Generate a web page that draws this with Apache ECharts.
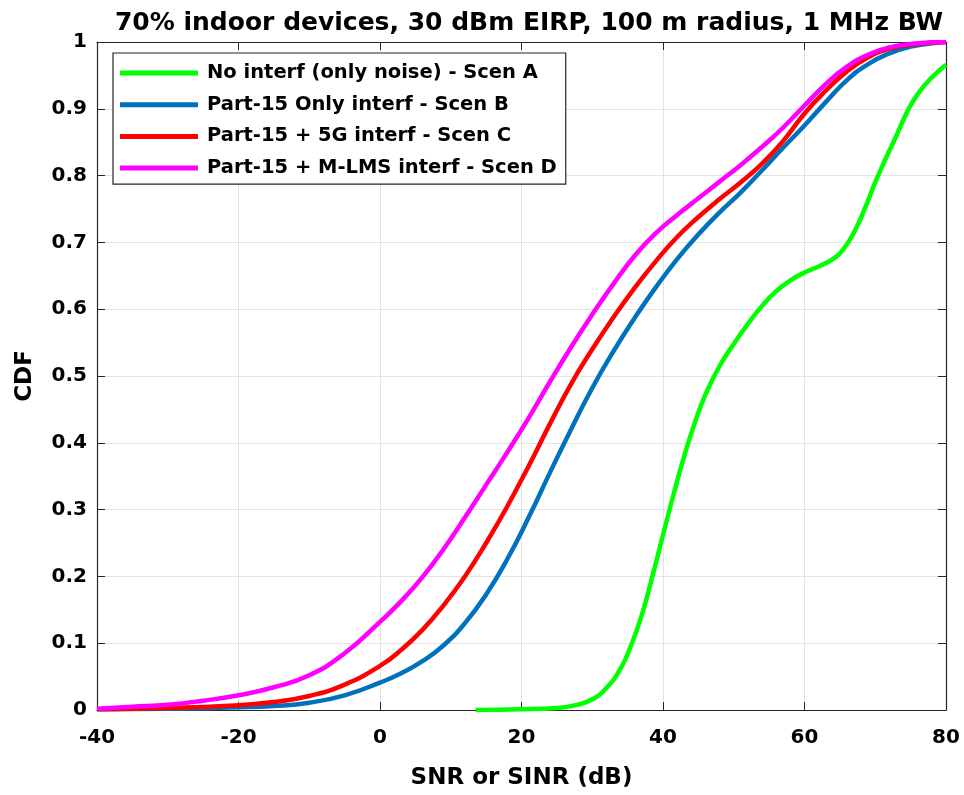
<!DOCTYPE html>
<html><head><meta charset="utf-8">
<script src="https://cdn.jsdelivr.net/npm/echarts@6/dist/echarts.min.js"></script>
<style>html,body{margin:0;padding:0;background:#fff}#c{width:964px;height:795px}</style>
</head><body><div id="c"></div>
<script>
const titleText = '70% indoor devices, 30 dBm EIRP, 100 m radius, 1 MHz BW';
const xTitle = 'SNR or SINR (dB)';
const yTitle = 'CDF';
const seriesNames = ['No interf (only noise) - Scen A','Part-15 Only interf - Scen B','Part-15 + 5G interf - Scen C','Part-15 + M-LMS interf - Scen D'];
const seriesColors = ['#00ff00','#0072bd','#ff0000','#ff00ff'];

const scenA = [[13.5,0],[20,0.001],[25,0.003],[28,0.008],[30,0.016],[32,0.033],[34,0.062],[35.5,0.097],[37,0.142],[38.5,0.2],[40,0.262],[41.5,0.323],[43,0.38],[44.5,0.43],[46,0.472],[48,0.515],[50,0.548],[52,0.578],[54,0.605],[56,0.627],[58,0.643],[60,0.655],[62,0.664],[64,0.675],[65.5,0.69],[67,0.715],[68.5,0.75],[70,0.79],[71.5,0.826],[73,0.86],[74.5,0.895],[76,0.922],[78,0.947],[80,0.966]];
const scenB = [[-40,0.001],[-30,0.002],[-20,0.004],[-15,0.006],[-10,0.011],[-5,0.022],[0,0.041],[3,0.055],[6,0.073],[9,0.097],[12,0.13],[15,0.173],[18,0.226],[21,0.288],[24,0.355],[27,0.42],[30,0.482],[33,0.537],[36,0.587],[39,0.633],[42,0.675],[45,0.712],[48,0.745],[51,0.775],[54,0.808],[57,0.842],[60,0.875],[63,0.91],[66,0.943],[69,0.967],[72,0.983],[75,0.993],[78,0.998],[80,1.0]];
const scenC = [[-40,0.001],[-30,0.003],[-22,0.006],[-15,0.012],[-10,0.021],[-5,0.038],[0,0.066],[3,0.09],[6,0.12],[9,0.157],[12,0.2],[15,0.25],[18,0.305],[21,0.365],[24,0.428],[27,0.488],[30,0.54],[33,0.588],[36,0.632],[39,0.672],[42,0.708],[45,0.738],[48,0.765],[51,0.79],[54,0.818],[57,0.852],[60,0.893],[63,0.927],[66,0.956],[69,0.977],[72,0.99],[75,0.996],[80,1.0]];
const scenD = [[-40,0.002],[-35,0.005],[-30,0.008],[-25,0.014],[-20,0.022],[-15,0.034],[-10,0.052],[-5,0.085],[0,0.132],[3,0.163],[6,0.199],[9,0.241],[12,0.288],[15,0.337],[18,0.386],[21,0.437],[24,0.491],[27,0.543],[30,0.592],[33,0.638],[36,0.68],[39,0.714],[42,0.741],[45,0.766],[48,0.791],[51,0.816],[54,0.843],[57,0.872],[60,0.905],[63,0.937],[66,0.963],[69,0.981],[72,0.992],[76,0.998],[80,1.0]];
const allData = [scenA, scenB, scenC, scenD];

const xTicks = {min:-40, max:80, interval:20};
const yTicks = {min:0, max:1, interval:0.1};

const FONT = '"DejaVu Sans", Verdana, sans-serif';
const chart = echarts.init(document.getElementById('c'));
const axisLine = {show:true, onZero:false, lineStyle:{color:'#262626', width:1.2}};
const tick = {show:true, inside:true, length:8, lineStyle:{color:'#262626', width:1}};
chart.setOption({
  animation:false,
  backgroundColor:'#fff',
  title:{text:titleText, left:524, textAlign:'center', top:6, textStyle:{fontFamily:FONT, fontWeight:'bold', fontSize:25, color:'#000'}},
  grid:{left:97, right:18, top:42, bottom:83, show:false},
  legend:{
    data:seriesNames, orient:'vertical', left:113, top:53, padding:[9,9,5,7],
    backgroundColor:'#fff', borderColor:'#262626', borderWidth:1.2, borderRadius:0,
    itemWidth:78, itemHeight:5, itemGap:9.7, icon:'rect',
    textStyle:{fontFamily:FONT, fontWeight:'bold', fontSize:19.5, color:'#000', lineHeight:22, padding:[0,0,0,4]}
  },
  xAxis:[{
    type:'value', min:xTicks.min, max:xTicks.max, interval:xTicks.interval,
    name:xTitle, nameLocation:'middle', nameGap:57,
    nameTextStyle:{fontFamily:FONT, fontWeight:'bold', fontSize:23, color:'#000'},
    axisLine, axisTick:tick,
    axisLabel:{fontFamily:FONT, fontWeight:'bold', fontSize:20, color:'#000', margin:18},
    splitLine:{show:true, lineStyle:{color:'#e3e3e3', width:1}}
  },{
    type:'value', position:'top', min:xTicks.min, max:xTicks.max, interval:xTicks.interval,
    axisLine, axisTick:tick, axisLabel:{show:false}, splitLine:{show:false}
  }],
  yAxis:[{
    type:'value', min:yTicks.min, max:yTicks.max, interval:yTicks.interval,
    name:yTitle, nameLocation:'middle', nameGap:60, nameRotate:90,
    nameTextStyle:{fontFamily:FONT, fontWeight:'bold', fontSize:23, color:'#000'},
    axisLine, axisTick:tick,
    axisLabel:{fontFamily:FONT, fontWeight:'bold', fontSize:20, color:'#000', margin:10,
      formatter:v=>String(Math.round(v*10)/10)},
    splitLine:{show:true, lineStyle:{color:'#e3e3e3', width:1}}
  },{
    type:'value', position:'right', min:yTicks.min, max:yTicks.max, interval:yTicks.interval,
    axisLine, axisTick:tick, axisLabel:{show:false}, splitLine:{show:false}
  }],
  series: seriesNames.map((n,i)=>({
    name:n, type:'line', data:allData[i], smooth:0.5, showSymbol:false, symbol:'none',
    xAxisIndex:0, yAxisIndex:0, clip:true,
    itemStyle:{color:seriesColors[i]},
    lineStyle:{color:seriesColors[i], width:4.5}
  }))
});
</script></body></html>
